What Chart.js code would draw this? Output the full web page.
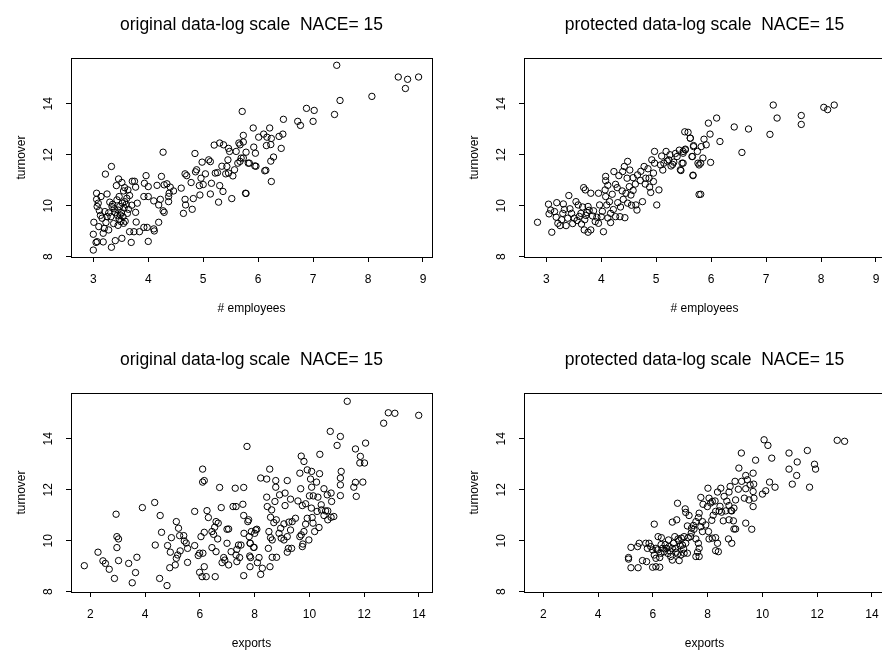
<!DOCTYPE html>
<html>
<head>
<meta charset="utf-8">
<script src="https://cdn.jsdelivr.net/npm/chart.js"></script>
<style>
  html, body { margin: 0; padding: 0; background: #fff; overflow: hidden; width: 882px; height: 656px; }
  canvas { position: absolute; }
</style>
</head>
<body>
<canvas id="p1" width="453" height="335" style="left:0;top:0"></canvas>
<canvas id="p2" width="453" height="335" style="left:453px;top:0"></canvas>
<canvas id="p3" width="453" height="335" style="left:0;top:335px"></canvas>
<canvas id="p4" width="453" height="335" style="left:453px;top:335px"></canvas>
<script>
// tick labels
const employeeTicks = [3, 4, 5, 6, 7, 8, 9];
const exportTicks = [2, 4, 6, 8, 10, 12, 14];
const turnoverTicks = [8, 10, 12, 14];

// original data: log employees vs log turnover
const origEmpX = [7.43, 8.55, 8.72, 8.92, 8.68, 8.07, 7.49, 6.88, 7.02, 7.39, 7.00, 6.72, 6.77, 6.46, 5.71, 5.91, 6.21, 6.10, 6.01, 6.16, 6.24, 6.38, 6.45, 5.73, 5.73, 5.67, 5.92, 6.15, 6.23, 6.42, 5.78, 5.95, 5.73, 5.67, 5.84, 5.96, 6.28, 6.23, 6.12, 6.14, 6.24, 5.78,
  4.27, 3.33, 3.22, 4.85, 3.46, 3.52, 3.42, 3.57, 3.71, 3.75, 3.77, 3.96, 3.93, 4.00, 4.24, 4.16, 4.29, 4.34, 4.40, 4.38, 4.46, 3.92, 4.00, 4.10, 4.22, 4.19, 4.27, 4.29, 4.37, 4.37, 4.60, 4.67, 4.70, 4.78, 4.86, 4.88, 4.98, 4.96, 4.93, 5.00, 4.94, 4.82, 4.67, 4.68, 4.64, 4.80,
  5.10, 5.13, 5.04, 5.15, 5.13, 5.22, 5.26, 5.34, 5.30, 5.36, 5.28, 5.43, 5.41, 5.46, 5.20, 5.30, 5.37, 5.46, 5.48, 5.45, 5.54, 5.57, 5.63, 5.52, 5.77, 5.65, 5.60, 5.69, 5.82, 5.94,
  3.00, 3.05, 3.07, 3.00, 3.18, 3.33, 3.40, 3.52, 3.69, 4.00, 3.01, 3.10, 3.18, 3.20, 3.28, 3.23, 3.16, 3.32, 3.37, 3.45, 3.50, 3.58, 3.55, 3.66, 3.74, 3.84, 3.92, 3.98, 4.10, 4.11, 4.19, 3.78,
  3.07, 3.11, 3.21, 3.25, 3.34, 3.40, 3.45, 3.48, 3.51, 3.54, 3.62, 3.64, 3.70, 3.77, 3.80, 3.06, 3.06, 3.14, 3.09, 3.25, 3.30, 3.43, 3.47, 3.53, 3.57, 3.61, 3.66, 3.49,
  3.38, 3.44, 3.56, 3.35, 3.47, 3.60, 3.28, 3.13, 3.55, 3.63];
const origEmpY = [15.51, 15.05, 14.96, 15.05, 14.60, 14.29, 14.13, 13.82, 13.74, 13.58, 13.31, 13.31, 13.15, 13.39, 13.70, 13.05, 13.05, 12.81, 12.69, 12.69, 12.64, 12.72, 12.81, 12.76, 12.50, 12.39, 12.30, 12.36, 12.40, 12.25, 12.10, 12.06, 11.87, 11.74, 11.67, 11.55, 11.91, 11.75, 11.37, 11.39, 10.95, 10.48,
  12.10, 11.54, 11.24, 12.05, 11.05, 10.91, 10.79, 10.71, 10.96, 10.96, 10.73, 11.18, 10.88, 10.75, 11.15, 10.80, 10.82, 10.86, 10.73, 10.49, 10.58, 10.36, 10.36, 10.19, 10.25, 10.03, 9.80, 9.74, 10.16, 10.36, 10.69, 11.25, 11.18, 10.91, 11.33, 11.41, 11.71, 11.08, 10.79, 10.83, 10.42, 10.28, 10.25, 10.03, 9.70, 9.86,
  11.80, 11.73, 11.25, 10.88, 10.46, 11.28, 11.30, 11.55, 10.79, 10.56, 10.14, 11.54, 11.25, 11.28, 12.38, 12.46, 12.39, 12.25, 12.13, 11.80, 11.17, 11.41, 11.67, 10.28, 10.49, 12.46, 12.13, 11.87, 11.67, 11.56,
  8.26, 8.56, 8.59, 8.88, 8.58, 8.37, 8.63, 8.72, 8.56, 8.60, 9.35, 9.18, 8.92, 9.11, 9.05, 9.34, 9.51, 9.57, 9.30, 9.23, 9.38, 9.39, 9.31, 8.98, 8.98, 8.98, 9.15, 9.15, 9.09, 9.01, 9.35, 9.36,
  9.97, 9.81, 9.77, 9.57, 9.97, 9.73, 9.83, 9.97, 9.73, 9.57, 9.70, 9.86, 10.02, 9.74, 10.10, 10.25, 10.49, 10.36, 10.10, 10.46, 10.14, 10.23, 10.36, 10.10, 10.16, 10.29, 10.40, 9.64,
  9.88, 9.62, 9.92, 10.05, 9.48, 10.05, 9.72, 9.62, 10.58, 10.62];

// protected data: log employees vs log turnover
const protEmpX = [7.13, 8.05, 8.12, 8.24, 7.20, 7.64, 7.64, 6.10, 5.95, 6.42, 6.68, 7.07, 5.52, 5.62, 5.98, 5.87, 6.16, 5.68, 5.82, 5.91, 5.53, 5.49, 5.65, 5.75, 5.85, 5.81, 5.78, 5.99, 5.49, 5.45, 6.56, 5.67, 5.81,
  2.84, 3.10, 3.04, 3.19, 3.31, 3.41, 3.08, 3.05, 3.15, 3.21, 3.25, 3.30, 3.36, 3.39, 3.46, 3.51, 3.54, 3.58, 3.63, 3.64, 3.69, 3.76, 3.81, 3.68, 3.71, 3.81, 3.76, 3.74, 3.84, 3.89, 3.95, 4.00, 4.04, 3.97, 3.95, 4.08, 4.10, 4.15, 4.17, 4.17, 4.26, 4.34, 4.43,
  4.08, 4.08, 4.07, 4.23, 4.26, 4.29, 4.32, 4.39, 4.42, 4.48, 4.47, 4.51, 4.45, 4.54, 4.48, 4.63, 4.65, 4.75, 4.66, 4.71, 4.78, 4.81, 4.87, 4.88, 4.90, 4.95, 4.97, 4.97, 5.01, 5.05, 5.08, 5.14, 5.18, 5.23, 5.27, 5.32, 5.38, 5.47, 5.44, 5.49, 5.53, 5.58, 5.62, 5.67, 5.68, 5.78, 5.66, 5.76,
  3.28, 3.43, 3.56, 3.60, 3.70, 3.72, 3.78, 3.86, 3.92, 3.48, 3.33, 3.18, 4.02, 4.12, 4.22, 3.66, 4.35, 4.30, 4.55, 4.40, 4.58, 4.62, 4.38, 4.20, 4.12, 4.72, 4.85, 4.92, 5.10, 5.20, 5.25, 5.35, 5.42, 5.30, 5.12, 4.80, 4.58, 4.52, 4.95];
const protEmpY = [13.95, 13.86, 13.77, 13.95, 13.44, 13.54, 13.19, 13.44, 13.24, 13.09, 13.01, 12.80, 12.90, 12.65, 12.81, 12.61, 12.52, 12.36, 12.32, 12.39, 12.22, 12.06, 11.93, 12.13, 11.87, 11.67, 11.60, 11.70, 11.67, 11.38, 12.09, 11.20, 10.45,
  9.35, 8.96, 10.06, 10.12, 10.07, 10.40, 9.83, 9.68, 9.77, 9.31, 9.22, 9.70, 9.22, 9.51, 9.70, 9.51, 10.16, 10.03, 9.70, 9.28, 9.05, 8.96, 9.05, 10.71, 10.62, 10.49, 9.97, 9.73, 9.60, 9.38, 9.31, 9.57, 8.98, 10.03, 10.49, 10.36, 10.03, 10.16, 9.70, 9.34, 9.57, 9.57, 9.53,
  11.15, 10.98, 10.62, 11.34, 10.84, 10.71, 11.18, 11.34, 11.54, 11.74, 11.08, 10.75, 10.49, 10.42, 10.10, 10.03, 9.83, 10.16, 11.21, 10.99, 11.54, 11.08, 11.08, 10.73, 10.52, 11.28, 11.67, 12.13, 10.03, 10.62, 11.60, 11.67, 12.13, 11.80, 11.56, 11.71, 11.93, 11.67, 11.41, 12.13, 12.19, 12.88, 12.65, 11.18, 12.32, 10.44, 11.93, 11.67,
  9.45, 9.88, 9.42, 9.58, 9.45, 9.62, 9.82, 9.80, 9.55, 9.30, 9.85, 9.55, 9.78, 9.52, 9.85, 9.95, 9.95, 10.12, 10.02, 10.25, 10.60, 10.85, 10.58, 10.45, 10.80, 11.35, 11.45, 11.80, 11.95, 11.75, 12.00, 12.05, 12.18, 11.62, 11.40, 10.85, 11.10, 11.40, 10.95];

// original data: log exports vs log turnover
const origExpX = [1.78, 2.28, 2.46, 2.55, 2.69, 2.88, 2.94, 2.97, 3.03, 2.97, 3.03, 3.40, 3.53, 3.65, 3.70, 3.90, 4.35, 4.37, 4.53, 4.55, 4.60, 4.80, 4.82, 4.90, 4.96, 4.92, 5.10, 5.14, 5.14, 5.19, 5.22, 5.26, 5.28, 5.41, 5.43, 5.50, 5.55, 5.55, 5.81, 5.81, 5.94, 5.99, 5.99, 6.04, 6.08, 6.10, 6.16, 6.10, 6.11, 6.16, 6.16, 6.23, 6.26, 6.31, 6.44, 6.44, 6.50, 6.54, 6.56, 6.59, 6.59, 6.65, 6.67, 6.72, 6.78, 6.81, 6.87, 6.91, 6.99, 6.99, 7.05, 7.05, 7.14, 7.21, 7.29, 7.32, 7.32, 7.35, 7.35, 7.41, 7.45, 7.50, 7.57, 7.60, 7.60, 7.60, 7.61, 7.72, 7.75, 7.78, 7.80, 7.82, 7.84, 7.88, 7.96, 8.08,
  11.38, 12.88, 13.12, 13.99, 12.71, 10.76, 11.13, 11.01, 12.05, 11.68, 10.38, 9.70, 9.80, 11.86, 11.84, 12.01, 8.55, 9.92, 9.65, 10.08, 10.37, 11.16, 11.13, 11.13, 8.22, 8.44, 8.77, 9.19, 8.77, 10.04, 10.26, 10.08, 9.68, 10.53, 11.68, 11.95, 11.62, 11.71, 11.13,
  8.44, 8.74, 8.46, 8.62, 8.91, 9.11, 9.11, 9.31, 9.58, 9.74, 9.86, 10.00, 10.14, 10.31, 10.65, 10.79, 10.81, 10.43, 10.44, 10.59, 10.67, 10.07, 10.28, 10.53, 10.67, 10.79, 10.89, 9.92, 10.10, 10.13, 10.35, 10.19, 9.98, 9.86, 9.80, 9.70, 9.76, 9.74, 9.65, 9.49, 9.37, 9.25, 9.31, 9.19, 9.07, 8.95, 8.89, 8.97, 9.07, 9.23, 9.35, 9.19, 8.79, 8.70, 8.58, 8.52, 8.58, 8.64, 8.50, 8.64, 8.80, 8.56, 8.28, 8.22, 8.16, 8.10, 7.85, 7.83, 8.04, 8.00, 7.83, 7.98];
const origExpY = [9.02, 9.55, 9.21, 9.11, 8.88, 8.52, 11.04, 10.16, 10.07, 9.73, 9.22, 9.11, 8.35, 8.75, 9.35, 11.30, 11.50, 9.83, 8.52, 10.99, 10.33, 8.24, 9.81, 8.94, 10.12, 9.55, 9.05, 10.75, 9.31, 9.44, 10.49, 10.20, 9.60, 10.20, 9.99, 9.91, 9.70, 9.15, 11.15, 9.81, 9.42, 9.51, 8.76, 10.16, 8.59, 12.30, 12.36, 12.81, 9.51, 8.98, 10.33, 8.59, 11.18, 10.91, 10.36, 9.73, 10.25, 10.53, 8.59, 10.75, 9.57, 10.07, 10.69, 12.09, 11.30, 9.14, 9.34, 9.24, 9.90, 10.45, 10.46, 9.05, 9.57, 11.34, 12.06, 11.34, 9.44, 9.66, 9.18, 9.83, 9.34, 9.83, 11.43, 12.09, 8.63, 10.99, 10.29, 13.70, 10.75, 10.82, 10.16, 9.40, 9.90, 10.36, 9.74, 10.45,
  15.47, 15.02, 15.00, 14.92, 14.61, 14.29, 14.09, 13.74, 13.83, 13.60, 13.39, 13.32, 13.11, 13.31, 13.05, 13.05, 12.81, 12.78, 12.65, 12.72, 12.63, 12.72, 12.46, 12.19, 12.46, 12.42, 12.36, 12.36, 12.10, 12.42, 12.30, 12.10, 12.04, 12.04, 12.29, 12.30, 12.10, 11.74, 11.77,
  11.71, 11.54, 11.34, 11.21, 11.80, 11.87, 11.38, 11.63, 11.56, 11.38, 11.45, 11.76, 11.76, 11.71, 11.80, 11.87, 11.54, 11.41, 11.21, 11.17, 11.17, 11.28, 11.15, 10.99, 10.82, 10.92, 10.95, 10.88, 10.91, 10.69, 10.52, 10.36, 10.03, 10.65, 10.36, 10.23, 9.87, 9.77, 10.16, 10.88, 10.75, 10.73, 10.42, 10.16, 10.66, 10.49, 10.29, 10.10, 10.03, 9.70, 9.70, 9.55, 10.82, 10.71, 10.92, 10.36, 10.12, 10.03, 9.70, 9.35, 9.35, 8.98, 8.92, 8.68, 9.34, 9.14, 9.34, 8.98, 10.42, 10.29, 9.90, 9.74];

// protected data: log exports vs log turnover
const protExpX = [12.73, 13.00, 10.06, 10.20, 9.23, 9.75, 10.34, 10.97, 11.64, 11.27, 10.97, 11.25, 11.90, 11.94, 11.09, 11.72, 10.26, 10.46, 10.12, 10.00, 9.14, 9.39, 9.66, 9.45, 9.55, 9.68, 9.39, 9.24, 9.00, 8.82, 9.12, 9.66, 9.69, 9.51, 9.66, 9.34, 9.02, 8.96, 8.85, 8.78, 8.78, 8.60, 8.48, 8.36, 8.27, 8.17, 8.01, 8.05, 8.11, 7.75, 7.83, 7.99, 8.29, 8.42, 8.51, 8.66, 8.88, 8.57, 8.78, 8.94, 8.96, 9.02, 9.39, 9.61,
  8.76, 8.88, 8.36, 8.29, 8.39, 8.29, 8.17, 8.05, 8.03, 7.93, 7.81, 7.69, 7.66, 7.57, 7.48, 7.41, 7.32, 7.26, 7.18, 7.20, 6.90, 6.87, 6.71, 7.29, 7.38, 7.57, 7.66, 7.69, 7.63, 7.57, 7.69, 7.81,
  6.05, 6.19, 6.31, 6.57, 6.75, 6.80, 6.92, 7.04, 7.14, 7.08, 7.20, 7.26, 7.14, 7.02, 6.90, 6.84, 6.71, 6.59, 6.50, 6.41, 6.35, 6.29, 6.17, 6.11, 5.99, 5.92, 5.86, 5.80, 5.74, 6.05, 6.11, 6.25, 6.65, 6.71, 6.96, 5.99, 6.11, 6.25, 5.50, 5.44, 5.20, 5.11, 5.11, 5.20, 5.46, 5.62, 5.77,
  6.45, 6.62, 6.85, 7.00, 6.30, 6.95, 7.12, 6.55, 7.40, 7.50, 7.75, 8.15, 8.45, 8.70, 8.20];
const protExpY = [13.94, 13.90, 13.96, 13.74, 13.44, 13.16, 13.24, 13.44, 13.54, 13.09, 12.81, 12.56, 13.00, 12.81, 12.22, 12.10, 12.30, 12.10, 11.96, 11.83, 12.85, 12.56, 12.65, 12.39, 12.19, 12.22, 12.04, 12.33, 12.33, 12.13, 12.02, 11.93, 11.67, 11.60, 11.34, 11.67, 11.60, 11.28, 11.18, 11.38, 11.91, 11.74, 12.06, 11.91, 11.56, 11.54, 12.06, 11.67, 11.48, 11.70, 11.43, 11.34, 11.15, 11.17, 11.12, 11.17, 11.17, 10.78, 10.82, 10.78, 10.46, 10.46, 10.69, 10.45,
  10.07, 9.90, 9.90, 9.61, 9.57, 10.12, 10.10, 10.07, 10.36, 10.62, 10.75, 11.08, 10.91, 10.75, 10.60, 10.49, 10.99, 10.58, 11.25, 11.11, 11.47, 10.82, 10.73, 10.12, 10.16, 10.07, 9.90, 9.70, 9.55, 9.38, 9.38, 10.36,
  10.65, 10.16, 10.12, 10.03, 9.90, 10.16, 10.07, 10.10, 10.16, 9.83, 9.90, 9.51, 9.51, 9.44, 9.48, 9.70, 9.70, 9.77, 9.70, 9.57, 9.70, 9.51, 9.64, 9.70, 9.64, 9.77, 9.90, 9.70, 9.90, 9.44, 9.31, 9.34, 9.38, 9.24, 9.22, 8.96, 8.98, 8.96, 9.90, 9.77, 9.74, 9.34, 9.28, 8.94, 8.94, 9.22, 9.18,
  9.85, 9.60, 9.55, 9.80, 9.85, 10.00, 9.68, 9.50, 10.30, 10.45, 10.55, 10.80, 11.35, 11.55, 11.00];

function toPoints(xs, ys) {
    return xs.map((x, i) => ({ x: x, y: ys[i] }));
}

Chart.defaults.font.family = "'Liberation Sans', Arial, sans-serif";
Chart.defaults.color = '#000';

// box around the plot region, rotated y tick labels and the main title
const frame = {
    id: 'frame',
    afterDraw(chart, args, opts) {
        const ctx = chart.ctx;
        const a = chart.chartArea;
        const y = chart.scales.y;
        ctx.save();
        ctx.strokeStyle = '#000';
        ctx.lineWidth = 1;
        ctx.strokeRect(a.left + 0.5, a.top + 0.5, a.right - a.left, a.bottom - a.top);
        ctx.fillStyle = '#000';
        ctx.font = "12px 'Liberation Sans', Arial, sans-serif";
        ctx.textAlign = 'center';
        ctx.textBaseline = 'middle';
        y.ticks.forEach(t => {
            ctx.save();
            ctx.translate(a.left - 22, y.getPixelForValue(t.value));
            ctx.rotate(-Math.PI / 2);
            ctx.fillText(String(t.value), 0, 0);
            ctx.restore();
        });
        ctx.font = "17.5px 'Liberation Sans', Arial, sans-serif";
        ctx.textBaseline = 'alphabetic';
        ctx.fillText(opts.text, (a.left + a.right) / 2, 29.5);
        ctx.restore();
    }
};

function makeChart(id, title, xLabel, xs, ys, xMin, xMax, xTicks) {
    return new Chart(document.getElementById(id), {
        type: 'scatter',
        data: {
            datasets: [{
                data: toPoints(xs, ys),
                pointStyle: 'circle',
                pointRadius: 3.2,
                pointBorderWidth: 1,
                pointBorderColor: '#000',
                pointBackgroundColor: 'rgba(0,0,0,0)'
            }]
        },
        options: {
            responsive: false,
            animation: false,
            events: [],
            layout: { padding: { top: 58, right: 21, bottom: 0, left: 0 } },
            plugins: {
                legend: { display: false },
                tooltip: { enabled: false },
                frame: { text: title }
            },
            scales: {
                x: {
                    type: 'linear',
                    min: xMin,
                    max: xMax,
                    afterBuildTicks: s => { s.ticks = xTicks.map(v => ({ value: v })); },
                    afterFit: s => { s.height = 78; },
                    border: { display: false },
                    grid: { drawOnChartArea: false, drawTicks: true, tickLength: 5, color: '#000' },
                    ticks: { color: '#000', font: { size: 12 }, padding: 10, maxRotation: 0, autoSkip: false },
                    title: { display: true, text: xLabel, color: '#000', font: { size: 12 }, padding: { top: 0, bottom: 19 } }
                },
                y: {
                    type: 'linear',
                    min: 7.988,
                    max: 15.796,
                    afterBuildTicks: s => { s.ticks = turnoverTicks.map(v => ({ value: v })); },
                    afterFit: s => { s.width = 71; },
                    border: { display: false },
                    grid: { drawOnChartArea: false, drawTicks: true, tickLength: 5, color: '#000' },
                    ticks: { display: false },
                    title: { display: true, text: 'turnover', color: '#000', font: { size: 12 }, padding: { top: 14.5, bottom: 0 } }
                }
            }
        },
        plugins: [frame]
    });
}

makeChart('p1', 'original data-log scale  NACE= 15', '# employees', origEmpX, origEmpY, 2.594, 9.164, employeeTicks);
makeChart('p2', 'protected data-log scale  NACE= 15', '# employees', protEmpX, protEmpY, 2.594, 9.164, employeeTicks);
makeChart('p3', 'original data-log scale  NACE= 15', 'exports', origExpX, origExpY, 1.294, 14.475, exportTicks);
makeChart('p4', 'protected data-log scale  NACE= 15', 'exports', protExpX, protExpY, 1.294, 14.475, exportTicks);
</script>
</body>
</html>
